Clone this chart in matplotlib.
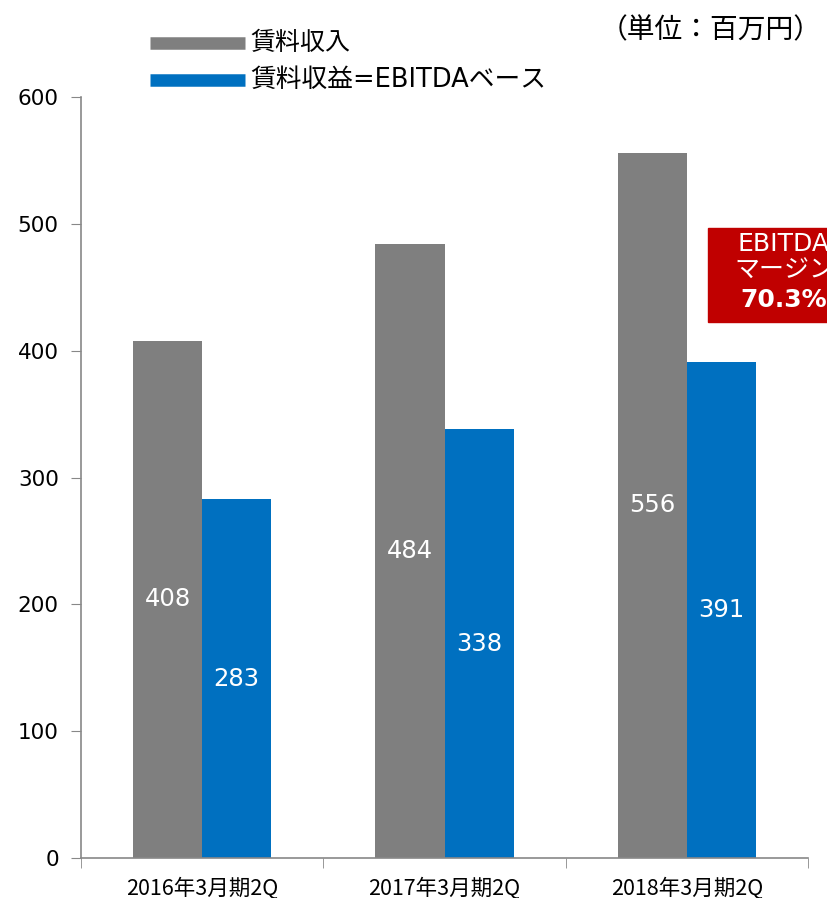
import numpy as np
import matplotlib.pyplot as plt
from matplotlib.patches import Rectangle

# latin text in DejaVu (closer to the original's Meiryo), CJK falls back to Noto
plt.rcParams['font.family'] = ['DejaVu Sans', 'Noto Sans CJK JP']

categories = ['2016年3月期2Q', '2017年3月期2Q', '2018年3月期2Q']
rent_income = [408, 484, 556]
ebitda_base = [283, 338, 391]
series_names = ['賃料収入', '賃料収益=EBITDAベース']
margin_text = ['EBITDA', 'マージン', '70.3%']

gray = '#7F7F7F'
blue = '#0070C0'
axis_col = '#888888'

fig = plt.figure(figsize=(8.27, 8.98), dpi=100)
ax = fig.add_axes([81/827, 1 - 858/898, 727/827, 761/898])

x = np.arange(len(categories))
w = 0.285
b1 = ax.bar(x - w/2, rent_income, w, color=gray)
b2 = ax.bar(x + w/2, ebitda_base, w, color=blue)

for bars, vals in ((b1, rent_income), (b2, ebitda_base)):
    for r, v in zip(bars, vals):
        ax.text(r.get_x() + r.get_width()/2, v/2, str(v), ha='center', va='center',
                color='white', fontsize=17.5)

ax.set_xlim(-0.5, 2.5)
ax.set_ylim(0, 600)
ax.set_yticks(range(0, 601, 100))
ax.set_xticks(x)
ax.set_xticks([-0.5, 0.5, 1.5, 2.5], minor=True)
ax.set_xticklabels(categories, fontsize=15.5, family=['Noto Sans CJK JP'])
ax.tick_params(axis='x', which='major', length=0, pad=14)
ax.tick_params(axis='x', which='minor', length=7, color=axis_col, direction='out')
ax.tick_params(axis='y', length=7, color=axis_col, labelsize=15.5, pad=9)
for s in ('top', 'right'):
    ax.spines[s].set_visible(False)
for s in ('left', 'bottom'):
    ax.spines[s].set_color(axis_col)
    ax.spines[s].set_linewidth(1.2)

# legend drawn by hand to match the layout
fig.add_artist(plt.Line2D([150/827, 245/827], [1 - 43/898]*2, color=gray, lw=9,
                          solid_capstyle='butt'))
fig.add_artist(plt.Line2D([150/827, 245/827], [1 - 80/898]*2, color=blue, lw=9,
                          solid_capstyle='butt'))
fig.text(250/827, 1 - 43/898, series_names[0], fontsize=18, va='center')
fig.text(250/827, 1 - 80/898, series_names[1], fontsize=18.5, va='center')

fig.text(600/827, 1 - 30/898, '（単位：百万円）', fontsize=20, va='center')

# EBITDA margin box (runs off the right edge, as in the original slide)
fig.add_artist(Rectangle((708/827, 1 - 322/898), 160/827, 94/898,
                         transform=fig.transFigure, color='#C00000', clip_on=False))
cx = 784/827
fig.text(cx, 1 - 244/898, margin_text[0], color='white', fontsize=18, ha='center', va='center')
fig.text(cx, 1 - 271/898, margin_text[1], color='white', fontsize=18, ha='center', va='center')
fig.text(cx, 1 - 300/898, margin_text[2], color='white', fontsize=18, ha='center', va='center',
         fontweight='bold')

fig.savefig('out.png', dpi=100)
